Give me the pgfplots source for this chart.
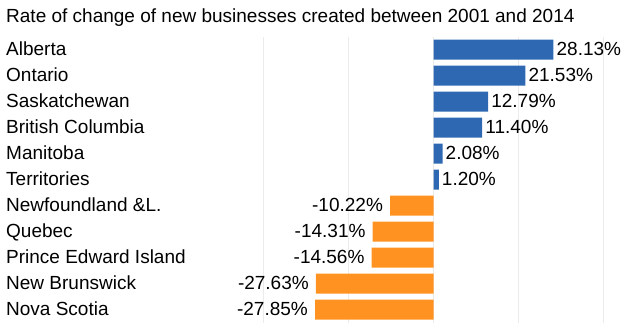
\documentclass[border=0pt]{standalone}
\usepackage{pgfplots}
\pgfplotsset{compat=1.18}
\usepackage{fontspec}
\setmainfont{Liberation Sans}
\definecolor{barblue}{RGB}{46,104,178}
\definecolor{barorange}{RGB}{255,146,32}
\definecolor{gridgray}{RGB}{235,235,235}
\newcommand{\lblfont}{\fontsize{19bp}{22bp}\selectfont}
\begin{document}
\begin{tikzpicture}
\path[use as bounding box] (0,0) rectangle (644bp,334bp);
\node[anchor=base west, inner sep=0pt, font=\lblfont] at (6bp,311.3bp) {Rate of change of new businesses created between 2001 and 2014};
\begin{axis}[
  at={(263.3bp,11.3bp)}, anchor=south west,
  scale only axis, width=340.7bp, height=286bp,
  xmin=-40, xmax=40, ymin=-0.5, ymax=10.5,
  xbar, bar width=20bp,
  axis line style={draw=none},
  major tick length=0pt,
  xtick={-40,-20,0,20,40}, xticklabels={},
  xmajorgrids, grid style={draw=gridgray, line width=1bp},
  ytick={0,...,10},
  yticklabels={Nova Scotia,New Brunswick,Prince Edward Island,Quebec,Newfoundland \&L.,Territories,Manitoba,British Columbia,Saskatchewan,Ontario,Alberta},
  yticklabel style={anchor=base west, inner sep=0pt, xshift=-257.3bp, yshift=-5.5bp, font=\lblfont},
  point meta=explicit symbolic,
  nodes near coords={\pgfplotspointmeta\%},
  every node near coord/.append style={font=\lblfont, inner sep=0pt},
]
\addplot[fill=barblue, draw=none, bar shift=0pt,
  every node near coord/.append style={anchor=base west, xshift=3bp, yshift=-5.5bp}]
  coordinates {
    (28.13,10) [28.13]
    (21.53,9) [21.53]
    (12.79,8) [12.79]
    (11.40,7) [11.40]
    (2.08,6) [2.08]
    (1.20,5) [1.20]
  };
\addplot[fill=barorange, draw=none, bar shift=0pt,
  every node near coord/.append style={anchor=base east, xshift=-7bp, yshift=-5.5bp}]
  coordinates {
    (-10.22,4) [-10.22]
    (-14.31,3) [-14.31]
    (-14.56,2) [-14.56]
    (-27.63,1) [-27.63]
    (-27.85,0) [-27.85]
  };
\end{axis}
\end{tikzpicture}
\end{document}
